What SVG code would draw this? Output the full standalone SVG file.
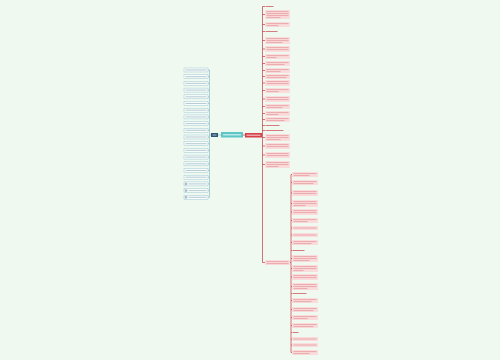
<svg xmlns="http://www.w3.org/2000/svg" width="500" height="360" viewBox="0 0 500 360">
<style>
.lb{fill:#f7fcfc;stroke:#9cc7d2;stroke-width:0.5}
.lt{fill:none;stroke:#b3c5cb;stroke-width:0.9}
.rb{fill:#fadcdc}
.rt{fill:none;stroke:#e39a9e;stroke-width:0.8}
.rl{fill:none;stroke:#cf5a60;stroke-width:0.8}
.cl{fill:none;stroke:#8fbccb;stroke-width:0.7}
.cr{fill:none;stroke:#c0393f;stroke-width:0.7}
</style>
<rect width="500" height="360" fill="#f0f9f0"/>
<g id="connectors">
<path class="cl" d="M209.5 70V197.3M208 70H209.5M208 76.7H209.5M208 83.4H209.5M208 90.1H209.5M208 96.8H209.5M208 103.5H209.5M208 110.2H209.5M208 116.9H209.5M208 123.6H209.5M208 130.3H209.5M208 137H209.5M208 143.7H209.5M208 150.4H209.5M208 157.1H209.5M208 163.8H209.5M208 170.5H209.5M208 177.2H209.5M208 183.9H209.5M208 190.6H209.5M208 197.3H209.5M209.5 135H211"/>
<path class="cl" d="M218 135H221"/>
<path class="cr" d="M243 135H245"/>
<path class="cr" d="M262.5 6.5V262.5M262.5 6.5H265M262.5 14.5H265M262.5 24.5H265M262.5 31.5H265M262.5 40.5H265M262.5 49H265M262.5 56.5H265M262.5 63.5H265M262.5 70.5H265M262.5 76.5H265M262.5 83H265M262.5 90.5H265M262.5 99H265M262.5 106.5H265M262.5 113.5H265M262.5 119.5H265M262.5 125.5H265M262.5 130.5H265M262.5 137.5H265M262.5 146H265M262.5 155H265M262.5 164.5H265M262.5 262.5H265M262 135H262.5"/>
<path class="cr" d="M290 262.5H291M291 174.5V352.5M291 174.5H292M291 182.5H292M291 193H292M291 203.5H292M291 212H292M291 220.5H292M291 228H292M291 235H292M291 242.5H292M291 250.5H292M291 258.5H292M291 268.5H292M291 277H292M291 286.5H292M291 293.5H292M291 300.5H292M291 309.5H292M291 317.5H292M291 325.5H292M291 332.5H292M291 339H292M291 345H292M291 352.5H292"/>
</g>
<g id="center"><rect x="221" y="132" width="22" height="5.5" fill="#5fc6c6"/><path d="M223 134.8h18" stroke="#d8f3f3" stroke-width="1.1"/></g>
<g id="leftHub"><rect x="211" y="133" width="7" height="4" fill="#2f5372"/><path d="M212.5 135h4" stroke="#b9c8d6" stroke-width="0.9"/></g>
<g id="rightHub"><rect x="245" y="133" width="17" height="4.5" fill="#d6404a"/><path d="M246.5 135.2h14" stroke="#f6cfd1" stroke-width="1"/></g>
<g id="left">
<g id="l1"><rect class="lb" x="184" y="68" width="24" height="4"/><path class="lt" d="M185.5 70h21"/></g>
<g id="l2"><rect class="lb" x="184" y="74.7" width="24" height="4"/><path class="lt" d="M185.5 76.7h21"/></g>
<g id="l3"><rect class="lb" x="184" y="81.4" width="24" height="4"/><path class="lt" d="M185.5 83.4h21"/></g>
<g id="l4"><rect class="lb" x="184" y="88.1" width="24" height="4"/><path class="lt" d="M185.5 90.1h21"/></g>
<g id="l5"><rect class="lb" x="184" y="94.8" width="24" height="4"/><path class="lt" d="M185.5 96.8h21"/></g>
<g id="l6"><rect class="lb" x="184" y="101.5" width="24" height="4"/><path class="lt" d="M185.5 103.5h21"/></g>
<g id="l7"><rect class="lb" x="184" y="108.2" width="24" height="4"/><path class="lt" d="M185.5 110.2h21"/></g>
<g id="l8"><rect class="lb" x="184" y="114.9" width="24" height="4"/><path class="lt" d="M185.5 116.9h21"/></g>
<g id="l9"><rect class="lb" x="184" y="121.6" width="24" height="4"/><path class="lt" d="M185.5 123.6h21"/></g>
<g id="l10"><rect class="lb" x="184" y="128.3" width="24" height="4"/><path class="lt" d="M185.5 130.3h21"/></g>
<g id="l11"><rect class="lb" x="184" y="135" width="24" height="4"/><path class="lt" d="M185.5 137h21"/></g>
<g id="l12"><rect class="lb" x="184" y="141.7" width="24" height="4"/><path class="lt" d="M185.5 143.7h21"/></g>
<g id="l13"><rect class="lb" x="184" y="148.4" width="24" height="4"/><path class="lt" d="M185.5 150.4h21"/></g>
<g id="l14"><rect class="lb" x="184" y="155.1" width="24" height="4"/><path class="lt" d="M185.5 157.1h21"/></g>
<g id="l15"><rect class="lb" x="184" y="161.8" width="24" height="4"/><path class="lt" d="M185.5 163.8h21"/></g>
<g id="l16"><rect class="lb" x="184" y="168.5" width="24" height="4"/><path class="lt" d="M185.5 170.5h21"/></g>
<g id="l17"><rect class="lb" x="184" y="175.2" width="24" height="4"/><path class="lt" d="M185.5 177.2h21"/></g>
<g id="l18"><rect class="lb" x="184" y="181.9" width="24" height="4"/><rect x="184.8" y="182.7" width="2.4" height="2.4" fill="#a9bcc3"/><path class="lt" d="M188.5 183.9h18"/></g>
<g id="l19"><rect class="lb" x="184" y="188.6" width="24" height="4"/><rect x="184.8" y="189.4" width="2.4" height="2.4" fill="#a9bcc3"/><path class="lt" d="M188.5 190.6h18"/></g>
<g id="l20"><rect class="lb" x="184" y="195.3" width="24" height="4"/><rect x="184.8" y="196.1" width="2.4" height="2.4" fill="#a9bcc3"/><path class="lt" d="M188.5 197.3h18"/></g>
</g>
<g id="right1">
<g id="r1"><path class="rl" d="M265.5 6.5h8"/></g>
<g id="r2"><rect class="rb" x="265" y="10" width="25" height="9"/><path class="rt" d="M266.5 11.6h22M266.5 13.6h22M266.5 15.6h22M266.5 17.6h14"/></g>
<g id="r3"><rect class="rb" x="265" y="22" width="25" height="5"/><path class="rt" d="M266.5 23.6h22M266.5 25.6h12"/></g>
<g id="r4"><path class="rl" d="M265.5 31.5h12"/></g>
<g id="r5"><rect class="rb" x="265" y="37" width="25" height="7"/><path class="rt" d="M266.5 38.6h22M266.5 40.6h22M266.5 42.6h16"/></g>
<g id="r6"><rect class="rb" x="265" y="46" width="25" height="6"/><path class="rt" d="M266.5 47.6h22M266.5 49.6h22"/></g>
<g id="r7"><rect class="rb" x="265" y="54" width="25" height="5"/><path class="rt" d="M266.5 55.6h22M266.5 57.6h10"/></g>
<g id="r8"><rect class="rb" x="265" y="61" width="25" height="5"/><path class="rt" d="M266.5 62.6h22M266.5 64.6h18"/></g>
<g id="r9"><rect class="rb" x="265" y="68" width="25" height="5"/><path class="rt" d="M266.5 69.6h22M266.5 71.6h14"/></g>
<g id="r10"><rect class="rb" x="265" y="74" width="25" height="5"/><path class="rt" d="M266.5 75.6h22M266.5 77.6h20"/></g>
<g id="r11"><rect class="rb" x="265" y="80" width="25" height="6"/><path class="rt" d="M266.5 81.6h22M266.5 83.6h22"/></g>
<g id="r12"><rect class="rb" x="265" y="88" width="25" height="5"/><path class="rt" d="M266.5 89.6h22M266.5 91.6h12"/></g>
<g id="r13"><rect class="rb" x="265" y="96" width="25" height="6"/><path class="rt" d="M266.5 97.6h22M266.5 99.6h22"/></g>
<g id="r14"><rect class="rb" x="265" y="104" width="25" height="5"/><path class="rt" d="M266.5 105.6h22M266.5 107.6h16"/></g>
<g id="r15"><rect class="rb" x="265" y="111" width="25" height="5"/><path class="rt" d="M266.5 112.6h22M266.5 114.6h12"/></g>
<g id="r16"><rect class="rb" x="265" y="117" width="25" height="5"/><path class="rt" d="M266.5 118.6h22M266.5 120.6h18"/></g>
<g id="r17"><path class="rl" d="M265.5 125.5h14"/></g>
<g id="r18"><path class="rl" d="M265.5 130.5h18"/></g>
<g id="r19"><rect class="rb" x="265" y="134" width="25" height="7"/><path class="rt" d="M266.5 135.6h22M266.5 137.6h22M266.5 139.6h14"/></g>
<g id="r20"><rect class="rb" x="265" y="143" width="25" height="6"/><path class="rt" d="M266.5 144.6h22M266.5 146.6h22"/></g>
<g id="r21"><rect class="rb" x="265" y="152" width="25" height="6"/><path class="rt" d="M266.5 153.6h22M266.5 155.6h22"/></g>
<g id="r22"><rect class="rb" x="265" y="161" width="25" height="7"/><path class="rt" d="M266.5 162.6h22M266.5 164.6h22M266.5 166.6h12"/></g>
<g id="r23"><rect class="rb" x="265" y="260" width="25" height="5"/><path class="rt" d="M266.5 261.6h22M266.5 263.6h22"/></g>
</g>
<g id="right2">
<g id="s1"><rect class="rb" x="292" y="172" width="26" height="5"/><path class="rt" d="M293.5 173.6h23M293.5 175.6h16"/></g>
<g id="s2"><rect class="rb" x="292" y="180" width="26" height="5"/><path class="rt" d="M293.5 181.6h23M293.5 183.6h20"/></g>
<g id="s3"><rect class="rb" x="292" y="190" width="26" height="6"/><path class="rt" d="M293.5 191.6h23M293.5 193.6h23"/></g>
<g id="s4"><rect class="rb" x="292" y="200" width="26" height="7"/><path class="rt" d="M293.5 201.6h23M293.5 203.6h23M293.5 205.6h12"/></g>
<g id="s5"><rect class="rb" x="292" y="209" width="26" height="6"/><path class="rt" d="M293.5 210.6h23M293.5 212.6h23"/></g>
<g id="s6"><rect class="rb" x="292" y="218" width="26" height="5"/><path class="rt" d="M293.5 219.6h23M293.5 221.6h14"/></g>
<g id="s7"><rect class="rb" x="292" y="226" width="26" height="4"/><path class="rt" d="M293.5 228h23"/></g>
<g id="s8"><rect class="rb" x="292" y="233" width="26" height="4"/><path class="rt" d="M293.5 235h23"/></g>
<g id="s9"><rect class="rb" x="292" y="240" width="26" height="5"/><path class="rt" d="M293.5 241.6h23M293.5 243.6h18"/></g>
<g id="s10"><path class="rl" d="M292.5 250.5h12"/></g>
<g id="s11"><rect class="rb" x="292" y="255" width="26" height="7"/><path class="rt" d="M293.5 256.6h23M293.5 258.6h23M293.5 260.6h16"/></g>
<g id="s12"><rect class="rb" x="292" y="265" width="26" height="7"/><path class="rt" d="M293.5 266.6h23M293.5 268.6h23M293.5 270.6h10"/></g>
<g id="s13"><rect class="rb" x="292" y="274" width="26" height="6"/><path class="rt" d="M293.5 275.6h23M293.5 277.6h23"/></g>
<g id="s14"><rect class="rb" x="292" y="283" width="26" height="7"/><path class="rt" d="M293.5 284.6h23M293.5 286.6h23M293.5 288.6h14"/></g>
<g id="s15"><path class="rl" d="M292.5 293.5h14"/></g>
<g id="s16"><rect class="rb" x="292" y="298" width="26" height="5"/><path class="rt" d="M293.5 299.6h23M293.5 301.6h18"/></g>
<g id="s17"><rect class="rb" x="292" y="307" width="26" height="5"/><path class="rt" d="M293.5 308.6h23M293.5 310.6h20"/></g>
<g id="s18"><rect class="rb" x="292" y="315" width="26" height="5"/><path class="rt" d="M293.5 316.6h23M293.5 318.6h14"/></g>
<g id="s19"><rect class="rb" x="292" y="323" width="26" height="5"/><path class="rt" d="M293.5 324.6h23M293.5 326.6h20"/></g>
<g id="s20"><path class="rl" d="M292.5 332.5h6"/></g>
<g id="s21"><rect class="rb" x="292" y="337" width="26" height="4"/><path class="rt" d="M293.5 339h23"/></g>
<g id="s22"><rect class="rb" x="292" y="343" width="26" height="4"/><path class="rt" d="M293.5 345h23"/></g>
<g id="s23"><rect class="rb" x="292" y="350" width="26" height="5"/><path class="rt" d="M293.5 351.6h23M293.5 353.6h16"/></g>
</g>
</svg>
